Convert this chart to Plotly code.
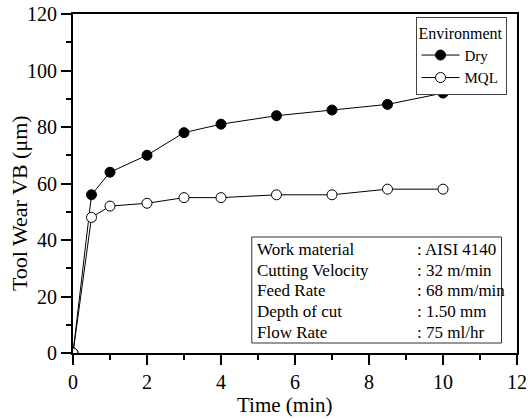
import plotly.graph_objects as go

time_min = [0, 0.5, 1, 2, 3, 4, 5.5, 7, 8.5, 10]
dry_wear = [0, 56, 64, 70, 78, 81, 84, 86, 88, 92]
mql_wear = [0, 48, 52, 53, 55, 55, 56, 56, 58, 58]

info_labels = ["Work material", "Cutting Velocity", "Feed Rate", "Depth of cut", "Flow Rate"]
info_values = [": AISI 4140", ": 32 m/min", ": 68 mm/min", ": 1.50 mm", ": 75 ml/hr"]

FONT = "Liberation Serif"

fig = go.Figure()
fig.add_trace(go.Scatter(
    x=time_min, y=dry_wear, name="Dry", mode="lines+markers",
    line=dict(color="black", width=1),
    marker=dict(symbol="circle", size=10, color="black", line=dict(color="black", width=1)),
))
fig.add_trace(go.Scatter(
    x=time_min, y=mql_wear, name="MQL", mode="lines+markers",
    line=dict(color="black", width=1),
    marker=dict(symbol="circle", size=10, color="white", line=dict(color="black", width=1)),
))

L, R, T, B = 73, 10.5, 14, 66
W, H = 528, 419
pw = W - L - R
ph = H - T - B

def px_to_paper_x(px):
    return (px - L) / pw

def px_to_paper_y(py):
    return (H - B - py) / ph

fig.update_layout(
    width=W, height=H, autosize=False,
    margin=dict(l=L, r=R, t=T, b=B, pad=0, autoexpand=False),
    paper_bgcolor="white", plot_bgcolor="white",
    font=dict(family=FONT, color="black", size=20),
    showlegend=True,
    legend=dict(
        title=dict(text="Environment", font=dict(size=16, family=FONT)),
        font=dict(size=15, family=FONT),
        x=px_to_paper_x(507), xanchor="right",
        y=px_to_paper_y(17), yanchor="top",
        bordercolor="#444", borderwidth=1, bgcolor="white",
        tracegroupgap=0, itemwidth=38,
    ),
    xaxis=dict(
        range=[0, 12], dtick=2, tick0=0, automargin=False,
        showline=True, linecolor="black", linewidth=2, mirror=True,
        ticks="outside", ticklen=10, tickwidth=2, tickcolor="black",
        minor=dict(ticks="outside", ticklen=5, dtick=1, tickwidth=2, tickcolor="black"),
        showgrid=False, zeroline=False,
        tickfont=dict(size=20, family=FONT),
    ),
    yaxis=dict(
        range=[0, 120], dtick=20, tick0=0, automargin=False,
        showline=True, linecolor="black", linewidth=2, mirror=True,
        ticks="outside", ticklen=10, tickwidth=2, tickcolor="black",
        minor=dict(ticks="outside", ticklen=5, dtick=10, tickwidth=2, tickcolor="black"),
        showgrid=False, zeroline=False,
        tickfont=dict(size=20, family=FONT),
    ),
    yaxis2=dict(
        range=[0, 120], dtick=10, overlaying="y", side="right", automargin=False,
        showline=False, ticks="outside", ticklen=3, tickwidth=1.5, tickcolor="black",
        showticklabels=False, showgrid=False, zeroline=False,
    ),
)

# axis titles placed as annotations
fig.add_annotation(
    text="Time (min)", xref="paper", yref="paper",
    x=px_to_paper_x(285), y=px_to_paper_y(405), xanchor="center", yanchor="middle",
    showarrow=False, font=dict(size=21, family=FONT),
)
fig.add_annotation(
    text="Tool Wear VB (μm)", xref="paper", yref="paper",
    x=px_to_paper_x(19), y=px_to_paper_y(203), xanchor="center", yanchor="middle",
    textangle=-90, showarrow=False, font=dict(size=22, family=FONT),
)

# info box
fig.add_shape(
    type="rect", xref="paper", yref="paper",
    x0=px_to_paper_x(252), x1=px_to_paper_x(502),
    y0=px_to_paper_y(343), y1=px_to_paper_y(237),
    line=dict(color="#333", width=1), fillcolor="white", layer="above",
)
row_y = [249.3, 270.1, 290.9, 311.7, 332.5]
for lab, val, yy in zip(info_labels, info_values, row_y):
    fig.add_annotation(
        text=lab, xref="paper", yref="paper",
        x=px_to_paper_x(255.5), y=px_to_paper_y(yy), xanchor="left", yanchor="middle",
        showarrow=False, font=dict(size=17, family=FONT),
    )
    fig.add_annotation(
        text=val, xref="paper", yref="paper",
        x=px_to_paper_x(415.5), y=px_to_paper_y(yy), xanchor="left", yanchor="middle",
        showarrow=False, font=dict(size=17, family=FONT),
    )

fig.write_html("out.html")
